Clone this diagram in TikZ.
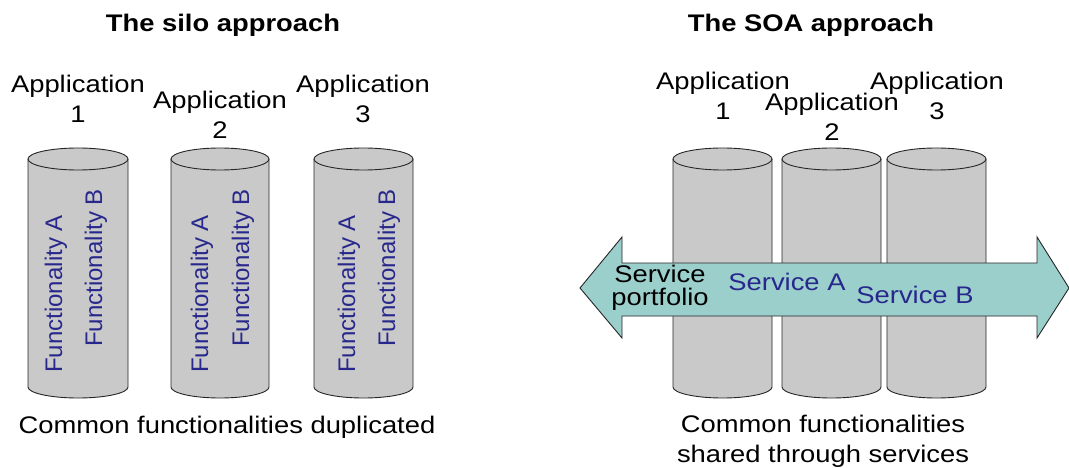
\documentclass[tikz,border=0pt]{standalone}
\usepackage{fontspec}
\setmainfont{Liberation Sans}[FakeStretch=1.14]
\newfontfamily\rotfont{Liberation Sans}
\definecolor{cylgray}{RGB}{201,201,201}
\definecolor{teal}{RGB}{155,207,204}
\definecolor{fblue}{RGB}{40,40,140}
\newcommand\drawcyl[3]{% name, center x, x radius
  \path[fill=cylgray] (#2-#3,159) -- (#2-#3,387)
     arc[start angle=180,end angle=0,x radius=#3,y radius=11]
     -- (#2+#3,159) arc[start angle=0,end angle=-180,x radius=#3,y radius=11] -- cycle;
  \draw[cylline] (#2-#3,159) -- (#2-#3,387)
     arc[start angle=180,end angle=0,x radius=#3,y radius=11] -- (#2+#3,159);
  \draw[cylline] (#2,159) ellipse[x radius=#3,y radius=11];
  \coordinate (#1) at (#2,273);
}
\begin{document}
\begin{tikzpicture}[x=1pt,y=-1pt,
  cylline/.style={line width=0.9pt,draw=black!85},
  txt/.style={inner sep=0pt,font=\fontsize{24}{30}\selectfont,align=center,anchor=base},
  ttl/.style={inner sep=0pt,font=\fontsize{24}{30}\selectfont\bfseries,anchor=base},
  func/.style={inner sep=0pt,font=\rotfont\fontsize{24}{30}\selectfont,text=fblue,rotate=90,anchor=base},
  svc/.style={inner sep=0pt,font=\fontsize{24}{30}\selectfont,text=fblue,anchor=base}]
\useasboundingbox[fill=white] (0,0) rectangle (1069,468);
% titles
\node[ttl] (t1) at (223,32) {The silo approach};
\node[ttl] (t2) at (811,32) {The SOA approach};
% silo cylinders
\drawcyl{s1}{78}{50}
\drawcyl{s2}{220}{49}
\drawcyl{s3}{363.5}{49.5}
\node[txt] (sa1) at (78,123) {Application\\1};
\node[txt] (sa2) at (220,139) {Application\\2};
\node[txt] (sa3) at (363,123) {Application\\3};
\node[func] (fa1) at (62,294) {Functionality A};
\node[func] (fb1) at (102,268) {Functionality B};
\node[func] (fa2) at (208,294) {Functionality A};
\node[func] (fb2) at (249,268) {Functionality B};
\node[func] (fa3) at (355,294) {Functionality A};
\node[func] (fb3) at (395,268) {Functionality B};
\node[txt] (sdup) at (227,433) {Common functionalities duplicated};
% SOA cylinders
\drawcyl{o1}{722.5}{49.5}
\drawcyl{o2}{831.5}{49.5}
\drawcyl{o3}{936.5}{49.5}
\node[txt] (oa1) at (723,120) {Application\\1};
\node[txt] (oa3) at (937,120) {Application\\3};
\node[txt] (oa2) at (832,141) {Application\\2};
% service arrow
\draw[fill=teal,line width=0.9pt,line join=miter,draw=black!85]
  (580,288) -- (622,237) -- (622,263) -- (1037,263) -- (1037,237) -- (1069,288)
  -- (1037,338) -- (1037,316) -- (622,316) -- (622,338) -- cycle;
\node[txt,font=\fontsize{24}{23}\selectfont] (port) at (660,305) {Service\\portfolio};
\node[svc] (sva) at (787,290) {Service A};
\node[svc] (svb) at (915,303) {Service B};
\node[txt] (oshr) at (823,462) {Common functionalities\\shared through services};
\end{tikzpicture}
\end{document}
